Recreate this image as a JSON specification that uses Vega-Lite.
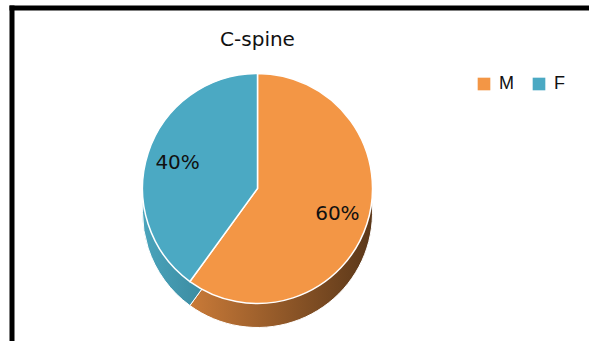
{
  "$schema": "https://vega.github.io/schema/vega-lite/v6.json",
  "autosize": "none",
  "width": 577,
  "height": 333,
  "padding": {"left": 12, "top": 8, "right": 0, "bottom": 0},
  "background": "white",
  "config": {"view": {"stroke": null}},
  "title": {
    "text": "C-spine",
    "anchor": "middle",
    "dx": -43,
    "dy": 62,
    "offset": 0,
    "baseline": "alphabetic",
    "fontSize": 20,
    "font": "DejaVu Sans",
    "fontWeight": "normal",
    "color": "#111111"
  },
  "data": {"values": [
    {"sex": "M", "share": 0.6},
    {"sex": "F", "share": 0.4}
  ]},
  "layer": [
    {
      "mark": {"type": "arc", "radius": 115, "xOffset": -43, "yOffset": 38, "stroke": "#ffffff", "strokeWidth": 1},
      "encoding": {
        "theta": {"field": "share", "type": "quantitative", "stack": true},
        "order": {"field": "share", "type": "quantitative", "sort": "descending"},
        "fill": {
          "condition": {"test": "datum.sex === 'M'", "value": {"gradient": "linear", "x1": 0, "x2": 1, "y1": 0, "y2": 0, "stops": [{"offset": 0, "color": "#C97A38"}, {"offset": 1, "color": "#5A3719"}]}},
          "value": {"gradient": "linear", "x1": 0, "x2": 1, "y1": 0, "y2": 0, "stops": [{"offset": 0, "color": "#4AA4BC"}, {"offset": 1, "color": "#2F7588"}]}
        }
      }
    },
    {
      "mark": {"type": "arc", "radius": 115, "xOffset": -43, "yOffset": 14, "stroke": "#ffffff", "strokeWidth": 1.5},
      "encoding": {
        "theta": {"field": "share", "type": "quantitative", "stack": true},
        "order": {"field": "share", "type": "quantitative", "sort": "descending"},
        "color": {
          "field": "sex",
          "type": "nominal",
          "scale": {"domain": ["M", "F"], "range": ["#F39645", "#4BA9C3"]},
          "legend": {
            "title": null,
            "orient": "none",
            "direction": "horizontal",
            "legendX": 463,
            "legendY": 67,
            "symbolType": "square",
            "symbolSize": 160,
            "symbolStrokeWidth": 0,
            "symbolOpacity": 1,
            "labelFont": "Liberation Sans",
            "labelFontSize": 18,
            "labelColor": "#111111",
            "labelOffset": 6,
            "columnPadding": 16,
            "padding": 0
          }
        }
      }
    },
    {
      "mark": {"type": "text", "radius": 84, "xOffset": -43, "yOffset": 14, "font": "DejaVu Sans", "fontSize": 20, "color": "#111111"},
      "encoding": {
        "theta": {"field": "share", "type": "quantitative", "stack": true},
        "order": {"field": "share", "type": "quantitative", "sort": "descending"},
        "text": {"field": "share", "type": "quantitative", "format": ".0%"}
      }
    },
    {
      "data": {"values": [{}]},
      "mark": {"type": "rule", "color": "#000000", "strokeWidth": 5, "strokeCap": "square"},
      "encoding": {"x": {"value": 0}}
    },
    {
      "data": {"values": [{}]},
      "mark": {"type": "rule", "color": "#000000", "strokeWidth": 5, "strokeCap": "square"},
      "encoding": {"y": {"value": 0}}
    }
  ]
}
